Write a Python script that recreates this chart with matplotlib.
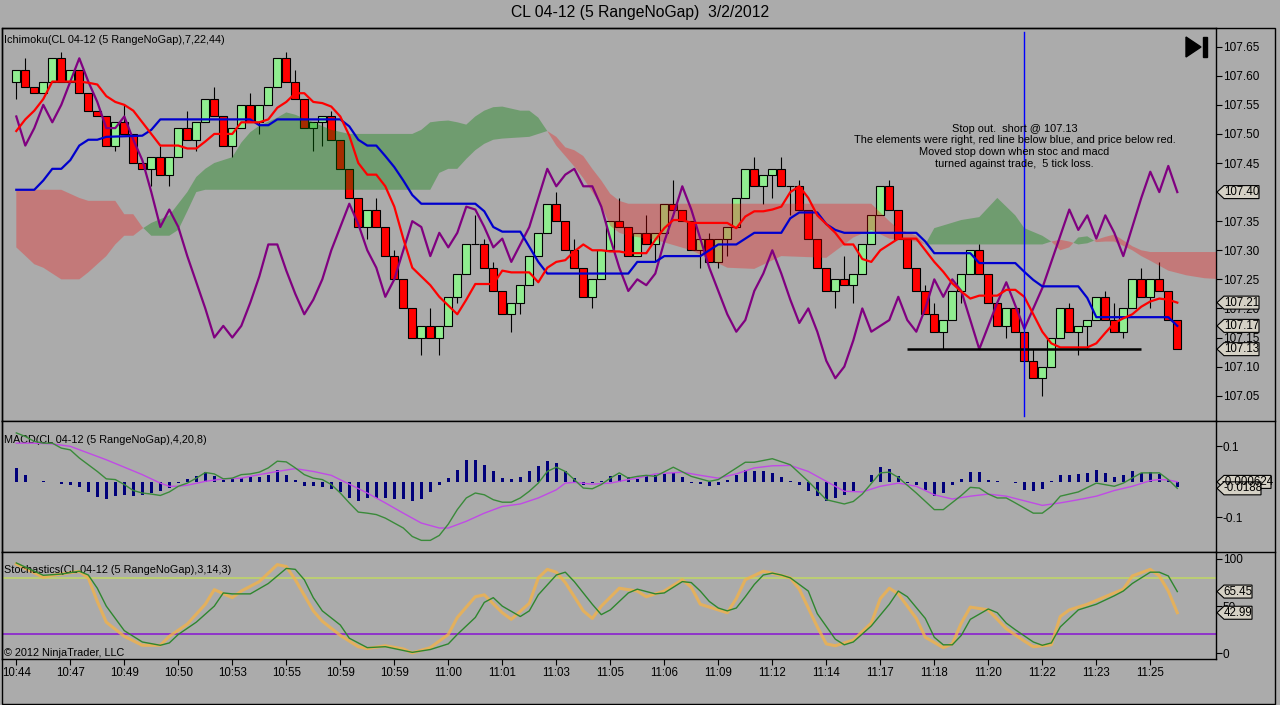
import numpy as np
import matplotlib
matplotlib.use('Agg')
import matplotlib.pyplot as plt
from matplotlib.patches import Polygon, Rectangle
from matplotlib.lines import Line2D

plt.rcParams['font.family'] = ['Liberation Sans', 'DejaVu Sans']

W, H = 1280, 705
BG = '#ABABAB'

title = 'CL 04-12 (5 RangeNoGap)  3/2/2012'
time_labels = ['10:44', '10:47', '10:49', '10:50', '10:53', '10:55', '10:59', '10:59', '11:00', '11:01', '11:03',
               '11:05', '11:06', '11:09', '11:12', '11:14', '11:17', '11:18', '11:20', '11:22', '11:23', '11:25']
time_ticks = [0, 6, 12, 18, 24, 30, 36, 42, 48, 54, 60, 66, 72, 78, 84, 90, 96, 102, 108, 114, 120, 126]

# 5 tick range bars
opens = [107.59, 107.61, 107.58, 107.57, 107.59, 107.63, 107.59, 107.61, 107.57, 107.54,
         107.53, 107.48, 107.52, 107.50, 107.45, 107.44, 107.46, 107.43, 107.46, 107.51,
         107.49, 107.52, 107.56, 107.53, 107.48, 107.51, 107.55, 107.52, 107.55, 107.58,
         107.63, 107.59, 107.56, 107.51, 107.52, 107.53, 107.49, 107.44, 107.39, 107.34,
         107.37, 107.34, 107.29, 107.25, 107.20, 107.15, 107.17, 107.15, 107.17, 107.22,
         107.26, 107.31, 107.31, 107.27, 107.23, 107.19, 107.21, 107.24, 107.29, 107.33,
         107.38, 107.35, 107.30, 107.27, 107.22, 107.25, 107.30, 107.35, 107.34, 107.29,
         107.33, 107.31, 107.33, 107.38, 107.37, 107.35, 107.30, 107.32, 107.28, 107.32,
         107.34, 107.39, 107.44, 107.41, 107.43, 107.44, 107.41, 107.41, 107.37, 107.32,
         107.27, 107.23, 107.25, 107.24, 107.26, 107.31, 107.36, 107.41, 107.37, 107.32,
         107.27, 107.23, 107.19, 107.16, 107.18, 107.23, 107.26, 107.30, 107.26, 107.21,
         107.17, 107.20, 107.16, 107.11, 107.08, 107.10, 107.15, 107.20, 107.16, 107.17,
         107.18, 107.22, 107.18, 107.16, 107.20, 107.25, 107.22, 107.25, 107.23, 107.18]
highs = [107.61, 107.63, 107.58, 107.59, 107.63, 107.64, 107.61, 107.61, 107.57, 107.54,
         107.53, 107.52, 107.55, 107.50, 107.45, 107.46, 107.48, 107.46, 107.51, 107.54,
         107.52, 107.56, 107.58, 107.53, 107.51, 107.55, 107.57, 107.55, 107.58, 107.63,
         107.64, 107.61, 107.56, 107.52, 107.53, 107.54, 107.49, 107.44, 107.39, 107.37,
         107.39, 107.34, 107.30, 107.25, 107.20, 107.17, 107.20, 107.17, 107.22, 107.26,
         107.31, 107.36, 107.32, 107.28, 107.23, 107.21, 107.24, 107.29, 107.33, 107.38,
         107.40, 107.35, 107.32, 107.27, 107.25, 107.30, 107.35, 107.39, 107.34, 107.33,
         107.36, 107.33, 107.38, 107.42, 107.37, 107.35, 107.32, 107.33, 107.32, 107.34,
         107.39, 107.44, 107.46, 107.43, 107.44, 107.46, 107.41, 107.42, 107.37, 107.32,
         107.27, 107.25, 107.29, 107.26, 107.31, 107.36, 107.41, 107.42, 107.37, 107.32,
         107.27, 107.24, 107.21, 107.18, 107.23, 107.26, 107.30, 107.31, 107.26, 107.21,
         107.20, 107.20, 107.16, 107.13, 107.10, 107.15, 107.20, 107.21, 107.17, 107.18,
         107.22, 107.23, 107.21, 107.20, 107.25, 107.27, 107.25, 107.28, 107.23, 107.18]
lows = [107.56, 107.58, 107.57, 107.57, 107.59, 107.59, 107.59, 107.57, 107.54, 107.53,
        107.48, 107.47, 107.50, 107.45, 107.44, 107.41, 107.43, 107.41, 107.46, 107.49,
        107.47, 107.52, 107.53, 107.48, 107.46, 107.51, 107.52, 107.50, 107.55, 107.58,
        107.59, 107.56, 107.51, 107.47, 107.48, 107.49, 107.44, 107.39, 107.34, 107.32,
        107.34, 107.29, 107.25, 107.20, 107.15, 107.12, 107.15, 107.12, 107.17, 107.21,
        107.26, 107.31, 107.27, 107.23, 107.19, 107.16, 107.19, 107.24, 107.29, 107.33,
        107.35, 107.30, 107.27, 107.22, 107.20, 107.25, 107.30, 107.34, 107.29, 107.29,
        107.31, 107.28, 107.33, 107.37, 107.35, 107.30, 107.27, 107.28, 107.27, 107.29,
        107.34, 107.39, 107.41, 107.38, 107.39, 107.41, 107.36, 107.37, 107.32, 107.27,
        107.23, 107.20, 107.24, 107.21, 107.26, 107.31, 107.36, 107.37, 107.32, 107.27,
        107.23, 107.19, 107.16, 107.13, 107.18, 107.21, 107.26, 107.26, 107.21, 107.17,
        107.15, 107.16, 107.11, 107.08, 107.05, 107.10, 107.15, 107.16, 107.12, 107.13,
        107.18, 107.18, 107.16, 107.15, 107.20, 107.22, 107.20, 107.23, 107.18, 107.13]
closes = [107.61, 107.58, 107.57, 107.59, 107.63, 107.59, 107.61, 107.57, 107.54, 107.53,
          107.48, 107.52, 107.50, 107.45, 107.44, 107.46, 107.43, 107.46, 107.51, 107.49,
          107.52, 107.56, 107.53, 107.48, 107.51, 107.55, 107.52, 107.55, 107.58, 107.63,
          107.59, 107.56, 107.51, 107.52, 107.53, 107.49, 107.44, 107.39, 107.34, 107.37,
          107.34, 107.29, 107.25, 107.20, 107.15, 107.17, 107.15, 107.17, 107.22, 107.26,
          107.31, 107.31, 107.27, 107.23, 107.19, 107.21, 107.24, 107.29, 107.33, 107.38,
          107.35, 107.30, 107.27, 107.22, 107.25, 107.30, 107.35, 107.34, 107.29, 107.33,
          107.31, 107.33, 107.38, 107.37, 107.35, 107.30, 107.32, 107.28, 107.32, 107.34,
          107.39, 107.44, 107.41, 107.43, 107.44, 107.41, 107.41, 107.37, 107.32, 107.27,
          107.23, 107.25, 107.24, 107.26, 107.31, 107.36, 107.41, 107.37, 107.32, 107.27,
          107.23, 107.19, 107.16, 107.18, 107.23, 107.26, 107.30, 107.26, 107.21, 107.17,
          107.20, 107.16, 107.11, 107.08, 107.10, 107.15, 107.20, 107.16, 107.17, 107.18,
          107.22, 107.18, 107.16, 107.20, 107.25, 107.22, 107.25, 107.23, 107.18, 107.13]

# Ichimoku lines (7, 22, 44)
tenkan = [107.505, 107.525, 107.54, 107.56, 107.59, 107.59, 107.59, 107.59, 107.588, 107.585,
          107.565, 107.555, 107.55, 107.54, 107.52, 107.50, 107.48, 107.48, 107.48, 107.475,
          107.475, 107.487, 107.50, 107.50, 107.50, 107.52, 107.52, 107.52, 107.525, 107.545,
          107.555, 107.57, 107.57, 107.555, 107.553, 107.547, 107.53, 107.497, 107.45, 107.43,
          107.43, 107.41, 107.375, 107.32, 107.27, 107.255, 107.24, 107.22, 107.205, 107.19,
          107.215, 107.242, 107.242, 107.242, 107.265, 107.262, 107.262, 107.262, 107.245, 107.27,
          107.28, 107.283, 107.298, 107.31, 107.30, 107.30, 107.298, 107.298, 107.295, 107.295,
          107.295, 107.318, 107.338, 107.352, 107.352, 107.347, 107.347, 107.347, 107.347, 107.347,
          107.338, 107.358, 107.367, 107.367, 107.37, 107.375, 107.40, 107.41, 107.39, 107.36,
          107.345, 107.33, 107.31, 107.31, 107.285, 107.28, 107.30, 107.31, 107.32, 107.32,
          107.32, 107.30, 107.28, 107.263, 107.243, 107.229, 107.217, 107.222, 107.222, 107.222,
          107.232, 107.232, 107.22, 107.19, 107.16, 107.14, 107.133, 107.133, 107.133, 107.133,
          107.14, 107.158, 107.175, 107.183, 107.19, 107.203, 107.212, 107.217, 107.215, 107.21]
kijun_x = [0, 2, 3, 4, 5, 6, 7, 8, 9, 10, 14, 15, 16, 26, 27, 28, 29, 36, 37, 38,
           39, 40, 41, 42, 43, 44, 45, 51, 52, 53, 54, 56, 57, 58, 59, 68, 69, 71, 72, 76,
           77, 78, 80, 81, 82, 85, 86, 87, 89, 90, 91, 92, 100, 101, 102, 106, 107, 111, 112, 113,
           114, 118, 119, 120, 128, 129]
kijun = [107.404, 107.404, 107.42, 107.44, 107.44, 107.455, 107.48, 107.49, 107.49, 107.495,
         107.497, 107.507, 107.525, 107.525, 107.515, 107.515, 107.525, 107.525, 107.513, 107.49,
         107.48, 107.48, 107.462, 107.443, 107.42, 107.395, 107.38, 107.38, 107.367, 107.34,
         107.332, 107.332, 107.306, 107.28, 107.26, 107.26, 107.28, 107.28, 107.29, 107.29,
         107.30, 107.31, 107.31, 107.32, 107.33, 107.33, 107.355, 107.365, 107.365, 107.345,
         107.335, 107.33, 107.33, 107.315, 107.295, 107.295, 107.278, 107.278, 107.263, 107.249,
         107.238, 107.238, 107.218, 107.185, 107.185, 107.17]
chikou = [107.53, 107.48, 107.51, 107.55, 107.52, 107.55, 107.59, 107.63, 107.59, 107.555,
          107.51, 107.51, 107.53, 107.49, 107.455, 107.40, 107.34, 107.37, 107.34, 107.29,
          107.245, 107.20, 107.15, 107.17, 107.15, 107.17, 107.21, 107.255, 107.31, 107.31,
          107.265, 107.225, 107.19, 107.215, 107.25, 107.30, 107.34, 107.38, 107.345, 107.30,
          107.27, 107.22, 107.25, 107.30, 107.35, 107.34, 107.29, 107.33, 107.305, 107.33,
          107.375, 107.37, 107.34, 107.305, 107.32, 107.28, 107.31, 107.34, 107.39, 107.44,
          107.41, 107.43, 107.44, 107.41, 107.41, 107.375, 107.32, 107.27, 107.23, 107.25,
          107.24, 107.26, 107.315, 107.36, 107.41, 107.37, 107.32, 107.27, 107.23, 107.19,
          107.16, 107.18, 107.23, 107.26, 107.30, 107.26, 107.215, 107.175, 107.20, 107.16,
          107.11, 107.08, 107.10, 107.145, 107.20, 107.16, 107.17, 107.18, 107.22, 107.18,
          107.16, 107.20, 107.25, 107.22, 107.25, 107.23, 107.18, 107.13, 107.17, 107.21,
          107.245, 107.205, 107.165, 107.20, 107.235, 107.28, 107.325, 107.37, 107.335, 107.36,
          107.32, 107.36, 107.33, 107.29, 107.34, 107.39, 107.435, 107.40, 107.445, 107.40]

# cloud (span A / span B), projected past the last bar
cloud_x = [0, 2, 3, 5, 7, 8, 10, 11, 12, 13,
           14, 15, 17, 18, 19, 20, 21, 22, 24, 25,
           26, 27, 29, 30, 31, 33, 35, 37, 44, 45,
           46, 47, 48, 49, 50, 51, 52, 53, 54, 56,
           57, 58, 59, 60, 61, 62, 63, 64, 65, 66,
           67, 68, 71, 75, 77, 79, 82, 85, 90, 92,
           93, 95, 97, 98, 100, 101, 102, 105, 107, 109,
           111, 112, 114, 115, 116, 117, 118, 119, 120, 121,
           122, 124, 125, 126, 128, 130, 132, 134]
span_a = [107.305, 107.276, 107.27, 107.25, 107.25, 107.262, 107.29, 107.31, 107.325, 107.325,
          107.337, 107.347, 107.36, 107.38, 107.40, 107.426, 107.44, 107.45, 107.46, 107.485,
          107.503, 107.514, 107.528, 107.537, 107.533, 107.52, 107.507, 107.50, 107.50, 107.507,
          107.52, 107.522, 107.523, 107.52, 107.516, 107.53, 107.54, 107.546, 107.547, 107.54,
          107.54, 107.528, 107.505, 107.48, 107.462, 107.444, 107.424, 107.40, 107.377, 107.342,
          107.33, 107.325, 107.318, 107.30, 107.285, 107.27, 107.268, 107.29, 107.287, 107.31,
          107.322, 107.335, 107.32, 107.318, 107.315, 107.31, 107.338, 107.352, 107.357, 107.39,
          107.36, 107.338, 107.325, 107.315, 107.30, 107.305, 107.322, 107.324, 107.314, 107.315,
          107.315, 107.30, 107.29, 107.282, 107.265, 107.257, 107.252, 107.25]
span_b = [107.404, 107.404, 107.404, 107.404, 107.39, 107.385, 107.385, 107.385, 107.362, 107.362,
          107.34, 107.325, 107.325, 107.335, 107.367, 107.40, 107.404, 107.404, 107.404, 107.404,
          107.404, 107.404, 107.404, 107.404, 107.404, 107.404, 107.404, 107.404, 107.404, 107.404,
          107.404, 107.433, 107.44, 107.44, 107.457, 107.472, 107.483, 107.49, 107.492, 107.494,
          107.495, 107.50, 107.505, 107.495, 107.477, 107.472, 107.462, 107.44, 107.42, 107.397,
          107.385, 107.38, 107.38, 107.38, 107.38, 107.38, 107.38, 107.38, 107.38, 107.38,
          107.38, 107.38, 107.35, 107.337, 107.325, 107.31, 107.31, 107.31, 107.31, 107.31,
          107.31, 107.31, 107.31, 107.315, 107.318, 107.315, 107.31, 107.312, 107.318, 107.323,
          107.327, 107.307, 107.30, 107.297, 107.297, 107.297, 107.297, 107.297]

# MACD (4, 20, 8)
macd_hist = [0.038, 0.02, 0, 0.002, 0, -0.006, -0.01, -0.015, -0.03, -0.042,
             -0.048, -0.04, -0.038, -0.04, -0.038, -0.032, -0.025, -0.018, -0.005, 0.008,
             0.015, 0.028, 0.015, 0.005, 0.008, 0.01, 0.012, 0.012, 0.018, 0.032,
             0.02, 0.005, -0.012, -0.012, -0.015, -0.02, -0.03, -0.045, -0.055, -0.045,
             -0.045, -0.045, -0.048, -0.05, -0.055, -0.05, -0.03, -0.01, 0.01, 0.032,
             0.06, 0.062, 0.048, 0.031, 0.01, 0.007, 0.012, 0.029, 0.045, 0.059,
             0.053, 0.029, 0.01, -0.008, -0.005, 0.002, 0.015, 0.02, 0.012, 0.008,
             0.015, 0.018, 0.022, 0.025, 0.012, -0.004, -0.007, -0.013, -0.008, 0.006,
             0.018, 0.034, 0.029, 0.029, 0.025, 0.012, 0.003, -0.008, -0.025, -0.041,
             -0.054, -0.046, -0.039, -0.025, -0.001, 0.02, 0.041, 0.037, 0.015, -0.004,
             -0.01, -0.023, -0.041, -0.032, -0.008, 0.008, 0.027, 0.027, 0.006, 0.001,
             -0.002, -0.005, -0.023, -0.027, -0.02, 0.001, 0.02, 0.02, 0.022, 0.025,
             0.034, 0.026, 0.012, 0.018, 0.029, 0.025, 0.027, 0.022, 0.006, -0.016]
macd_x = list(range(72)) + [73, 75, 77, 78, 81, 82, 84, 86, 88, 90,
                            92, 93, 94, 96, 97, 98, 100, 102, 103, 105,
                            106, 107, 108, 109, 110, 111, 113, 114, 115, 116,
                            118, 120, 122, 123, 125, 127, 128, 129]
macd_line = [0.138, 0.128, 0.114, 0.109, 0.109, 0.095, 0.09, 0.067, 0.048, 0.029,
             0.008, 0.006, -0.008, -0.025, -0.032, -0.035, -0.039, -0.029, -0.013, -0.004,
             0.01, 0.026, 0.022, 0.008, 0.01, 0.02, 0.022, 0.027, 0.039, 0.058,
             0.056, 0.039, 0.02, 0.01, 0.006, -0.008, -0.032, -0.06, -0.086, -0.089,
             -0.093, -0.103, -0.117, -0.131, -0.155, -0.166, -0.166, -0.152, -0.12, -0.079,
             -0.046, -0.032, -0.037, -0.051, -0.058, -0.058, -0.046, -0.027, -0.004, 0.029,
             0.041, 0.029, 0.006, -0.018, -0.02, -0.008, 0.01, 0.025, 0.01, 0.015,
             0.018, 0.015,
             0.041, 0.015, 0.001, 0.006, 0.055, 0.055, 0.065, 0.048, 0.001, -0.051,
             -0.063, -0.056, -0.035, 0.025, 0.027, 0.012, -0.032, -0.079, -0.079, -0.039,
             -0.016, -0.018, -0.035, -0.046, -0.046, -0.06, -0.089, -0.089, -0.07, -0.041,
             -0.029, -0.004, -0.013, -0.004, 0.025, 0.025, 0.006, -0.0188]
sig_x = [0, 2, 4, 6, 8, 10, 12, 14, 16, 17,
         18, 19, 21, 23, 25, 27, 29, 31, 33, 35,
         37, 39, 41, 43, 45, 47, 48, 50, 52, 54,
         56, 58, 60, 61, 62, 64, 66, 68, 69, 71,
         74, 76, 78, 80, 82, 84, 86, 88, 90, 92,
         94, 96, 98, 100, 102, 104, 106, 108, 110, 112,
         114, 116, 118, 120, 122, 124, 126, 127, 128, 129]
sig_line = [0.109, 0.109, 0.107, 0.10, 0.081, 0.062, 0.041, 0.02, -0.004, -0.013,
            -0.013, -0.01, 0.001, 0.008, 0.01, 0.02, 0.029, 0.037, 0.029, 0.018,
            -0.007, -0.032, -0.06, -0.089, -0.117, -0.131, -0.131, -0.112, -0.089, -0.07,
            -0.063, -0.046, -0.023, -0.004, -0.002, -0.007, -0.004, 0.006, 0.01, 0.022,
            0.027, 0.018, 0.01, 0.022, 0.039, 0.045, 0.046, 0.029, 0.001, -0.027,
            -0.029, -0.013, -0.004, -0.013, -0.037, -0.049, -0.041, -0.035, -0.041, -0.054,
            -0.067, -0.06, -0.051, -0.041, -0.025, -0.013, 0.003, 0.006, 0.005, -0.0006]

# Stochastics (3, 14, 3)
stoch_d_x = [0, 3, 5, 7, 8, 9, 10, 12, 14, 16,
             17, 18, 20, 22, 23, 24, 26, 28, 30, 31,
             32, 33, 34, 36, 37, 39, 41, 42, 44, 46,
             48, 49, 51, 52, 53, 54, 56, 57, 58, 60,
             61, 62, 64, 65, 66, 68, 69, 71, 72, 74,
             75, 76, 77, 78, 79, 80, 81, 82, 83, 84,
             85, 86, 88, 89, 91, 92, 93, 95, 97, 98,
             99, 101, 102, 103, 104, 105, 106, 108, 109, 110,
             111, 113, 114, 115, 116, 117, 118, 120, 122, 123,
             124, 126, 127, 128, 129]
stoch_d = [95.8, 82.7, 84, 87, 83, 69, 50, 24, 12, 8.5,
           11, 20, 33, 50, 64, 63, 63, 74, 90, 89,
           78, 59, 45, 30, 16, 6, 7, 5, 1, 4,
           10, 20, 38, 54, 59, 50, 39, 45, 62, 83,
           86, 76, 52, 41, 46, 64, 68, 63, 64, 76,
           75, 66, 55, 48, 45, 48, 60, 73, 83, 85,
           83, 80, 66, 42, 15, 9, 12, 29, 52, 66,
           60, 37, 17, 9, 9, 19, 36, 47, 43, 32,
           25, 12, 8.5, 11, 28, 37, 46, 52, 61, 66,
           74, 86, 86, 82, 65.45]
stoch_k_x = [0, 3, 4, 7, 8, 9, 10, 12, 14, 16,
             17, 19, 21, 22, 24, 25, 27, 29, 30, 31,
             33, 34, 36, 38, 39, 41, 43, 44, 46, 48,
             49, 51, 52, 54, 55, 57, 58, 59, 60, 61,
             63, 64, 65, 67, 69, 70, 72, 74, 75, 76,
             78, 79, 80, 81, 83, 84, 86, 87, 89, 90,
             91, 93, 95, 96, 97, 98, 100, 101, 103, 104,
             105, 106, 108, 109, 110, 112, 113, 115, 116, 117,
             119, 121, 123, 124, 126, 127, 128, 129]
stoch_k = [94.7, 80.6, 82.7, 86.9, 80, 55, 33, 18, 8.5, 8.5,
           18, 31, 52, 67.5, 59, 66, 76, 94, 92, 78,
           45, 34, 19, 7, 5, 8, 4.6, 0.4, 6, 20,
           38, 60, 62, 43, 36, 53, 80, 89, 86, 75,
           45, 37, 50, 69, 66, 60, 66, 78, 70, 52,
           46, 43, 58, 78, 87, 85, 80, 68, 28, 10,
           8, 14, 32, 58, 69, 63, 37, 17, 6, 10,
           32, 49, 46, 36, 26, 13, 7, 9, 39, 46,
           52, 60, 68, 82, 89, 82, 66, 42.99]

# drawn objects on the chart
stop_level = 107.13
stop_from, stop_to = 99, 125
entry_bar = 112
note = ('Stop out.  short @ 107.13\n'
        'The elements were right, red line below blue, and price below red.\n'
        'Moved stop down when stoc and macd\n'
        'turned against trade,  5 tick loss.')
price_ticks = [107.05, 107.10, 107.15, 107.20, 107.25, 107.30, 107.35, 107.40, 107.45, 107.50, 107.55, 107.60, 107.65]


fig = plt.figure(figsize=(W / 100, H / 100), dpi=100)
fig.patch.set_facecolor(BG)


def panel(y0, y1, ylim):
    # axes placed from pixel rows of the screenshot
    ax = fig.add_axes([1.5 / W, 1 - y1 / H, (1216 - 1.5) / W, (y1 - y0) / H])
    ax.set_facecolor(BG)
    ax.set_xlim(-1.644, 133.3)
    ax.set_ylim(*ylim)
    for s in ax.spines.values():
        s.set_color('black')
        s.set_linewidth(1)
    ax.yaxis.tick_right()
    ax.tick_params(axis='y', direction='out', length=4, width=0.8, labelsize=8.5, pad=1)
    ax.tick_params(axis='x', bottom=False, labelbottom=False)
    return ax


def tag(ax, value, text, width):
    # right axis value box with a pointed left end
    xr = ax.transAxes.transform((1, 0))[0]
    yv = ax.transData.transform((0, value))[1]
    pts = [(xr + 1, yv), (xr + 8, yv + 6.5), (xr + 8 + width, yv + 6.5),
           (xr + 8 + width, yv - 6.5), (xr + 8, yv - 6.5)]
    inv = fig.transFigure.inverted()
    fig.add_artist(Polygon(inv.transform(pts), closed=True, facecolor='#D5D1C5',
                           edgecolor='black', lw=0.8, transform=fig.transFigure, zorder=5))
    tx, ty = inv.transform((xr + 8 + width / 2, yv))
    fig.text(tx, ty, text, ha='center', va='center', fontsize=8.3, zorder=6)


# | price panel |
ax1 = panel(28, 421, (107.0065, 107.6821))
ax1.set_yticks(price_ticks)
ax1.set_yticklabels(['%.2f' % t for t in price_ticks])

bars = np.arange(len(closes))
o = np.array(opens)
c = np.array(closes)
up = c >= o
ax1.vlines(bars, lows, highs, color='black', lw=0.8, zorder=2)
ax1.bar(bars, np.abs(c - o), bottom=np.minimum(o, c), width=0.88,
        color=np.where(up, '#90EE90', '#FF0000'), edgecolor='black', lw=0.8, zorder=3)

cx = np.array(cloud_x)
sa = np.array(span_a)
sb = np.array(span_b)
ax1.fill_between(cx, sa, sb, where=sa >= sb, interpolate=True, color='#008000', alpha=0.35, lw=0, zorder=4)
ax1.fill_between(cx, sa, sb, where=sa < sb, interpolate=True, color='#FF0000', alpha=0.29, lw=0, zorder=4)

ax1.plot(bars, chikou, color='#800080', lw=1.6, zorder=5)
ax1.plot(kijun_x, kijun, color='#0000CD', lw=1.6, zorder=5)
ax1.plot(bars, tenkan, color='#FF0000', lw=1.6, zorder=5)

ax1.hlines(stop_level, stop_from, stop_to, color='black', lw=1.8, zorder=6)
ax1.axvline(entry_bar, ymin=0.012, ymax=0.99, color='#0000FF', lw=1, zorder=6)
ax1.text(110.9, 107.479, note, ha='center', va='center', fontsize=7.9, linespacing=1.22, zorder=7)
ax1.text(0.002, 0.9695, 'Ichimoku(CL 04-12 (5 RangeNoGap),7,22,44)', transform=ax1.transAxes,
         ha='left', va='center', fontsize=7.8)

# go-to-end button
fig.add_artist(Polygon([(1186 / W, 1 - 37 / H), (1186 / W, 1 - 57 / H), (1201 / W, 1 - 47 / H)],
                       closed=True, color='black', transform=fig.transFigure, zorder=5))
fig.add_artist(Rectangle((1202.5 / W, 1 - 57 / H), 4 / W, 20 / H, color='black',
                         transform=fig.transFigure, zorder=5))

# | MACD panel |
ax2 = panel(421, 552, (-0.1989, 0.1717))
ax2.set_yticks([0.1, -0.1])
ax2.set_yticklabels(['0.1', '-0.1'])
ax2.bar(bars, macd_hist, width=0.36, color='#00007A', zorder=3)
ax2.plot(sig_x, sig_line, color='#C04AE6', lw=1.0, zorder=4)
ax2.plot(macd_x, macd_line, color='#3A8A3A', lw=1.0, zorder=5)
ax2.text(0.002, 0.857, 'MACD(CL 04-12 (5 RangeNoGap),4,20,8)', transform=ax2.transAxes,
         ha='left', va='center', fontsize=7.8)

# | Stochastics panel |
ax3 = panel(552, 659, (-6.04, 107.4))
ax3.set_yticks([0, 50, 100])
ax3.set_yticklabels(['0', '50', '100'])
ax3.axhline(80, color='#BFD46A', lw=1.2, zorder=2)
ax3.axhline(20, color='#8A1FD0', lw=1.2, zorder=2)
ax3.plot(stoch_k_x, stoch_k, color='#F2B24A', lw=2.2, alpha=0.8, zorder=3)
ax3.plot(stoch_d_x, stoch_d, color='#2E862E', lw=1.0, zorder=4)
ax3.text(0.002, 0.832, 'Stochastics(CL 04-12 (5 RangeNoGap),3,14,3)', transform=ax3.transAxes,
         ha='left', va='center', fontsize=7.8)
ax3.text(0.002, 0.056, '\u00a9 2012 NinjaTrader, LLC', transform=ax3.transAxes,
         ha='left', va='center', fontsize=7.8)
ax3.set_xticks(time_ticks)
ax3.set_xticklabels(time_labels)
ax3.tick_params(axis='x', bottom=True, labelbottom=True, direction='out', length=4,
                width=0.8, labelsize=8.3, pad=2)

# outer frame and separators through the axis strip
fig.add_artist(Rectangle((1.5 / W, 1 - 703.5 / H), (1275 - 1.5) / W, (703.5 - 28) / H,
                         fill=False, ec='black', lw=1, transform=fig.transFigure))
for yy in (421, 552):
    fig.add_artist(Line2D([1216 / W, 1275 / W], [1 - yy / H, 1 - yy / H], color='black', lw=1,
                          transform=fig.transFigure))

# value tags on the right axis
tag(ax1, 107.40, '107.40', 35)
tag(ax1, 107.21, '107.21', 35)
tag(ax1, 107.17, '107.17', 35)
tag(ax1, 107.13, '107.13', 35)
tag(ax2, -0.000624, '-0.000624', 47)
tag(ax2, -0.0188, '-0.0188', 37)
tag(ax3, 65.45, '65.45', 28)
tag(ax3, 42.99, '42.99', 28)

fig.text(0.5, 1 - 13 / H, title, ha='center', va='center', fontsize=11.3)

plt.savefig('out.png', dpi=100, facecolor=BG)
plt.close()
